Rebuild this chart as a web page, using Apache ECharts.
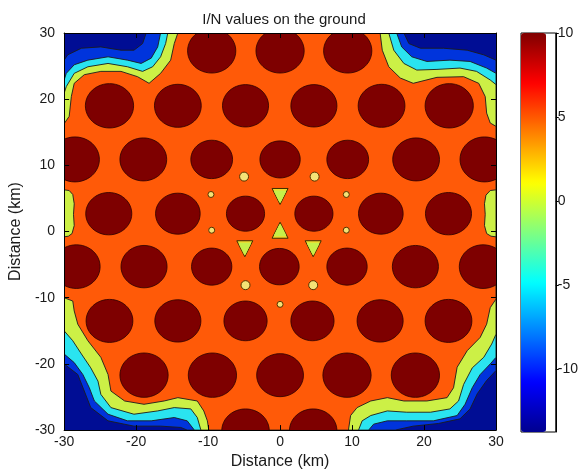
<!DOCTYPE html>
<html>
<head>
<meta charset="utf-8">
<title>I/N values on the ground</title>
<script src="https://cdn.jsdelivr.net/npm/echarts@6/dist/echarts.min.js"></script>
<style>
  html, body { margin: 0; padding: 0; background: #fff; }
  #chart { width: 581px; height: 475px; }
</style>
</head>
<body>
<div id="chart"></div>
<script>
// cell centres (km) and radius (km) of the > 10 dB contour round each one, row by row
const circleX = [
  -9.5, 0, 9.4,
  -23.7, -14.2, -4.8, 4.7, 14.1, 23.5,
  -28.5, -19.0, -9.5, 0, 9.4, 18.9, 28.4,
  -23.8, -14.2, -4.8, 4.7, 14.0, 23.4,
  -28.3, -18.9, -9.5, -0.1, 9.3, 18.8, 28.2,
  -23.7, -14.2, -4.8, 4.5, 13.9, 23.4,
  -18.9, -9.4, 0, 9.3, 18.8,
  -4.8, 4.6
];
const circleY = [
  27.3, 27.3, 27.3,
  19.0, 19.0, 19.0, 19.0, 19.0, 19.0,
  10.9, 10.9, 10.9, 10.9, 10.9, 10.9, 10.9,
  2.7, 2.7, 2.7, 2.7, 2.7, 2.7,
  -5.3, -5.3, -5.3, -5.3, -5.3, -5.3, -5.3,
  -13.5, -13.5, -13.5, -13.5, -13.5, -13.5,
  -21.7, -21.7, -21.7, -21.7, -21.7,
  -30.1, -30.1
];
const circleR = [
  3.35, 3.35, 3.35,
  3.35, 3.25, 3.2, 3.2, 3.25, 3.35,
  3.4, 3.25, 2.9, 2.8, 2.9, 3.25, 3.4,
  3.2, 3.1, 2.65, 2.65, 3.1, 3.2,
  3.3, 3.2, 2.8, 2.75, 2.8, 3.2, 3.3,
  3.25, 3.2, 3.0, 3.0, 3.2, 3.25,
  3.35, 3.35, 3.25, 3.35, 3.35,
  3.3, 3.3
];

// contour outlines (km): region above each level, traced clockwise from the top-left corner
const blueZone = [
  [-30, 25.9], [-29.5, 26.7], [-27.6, 27.7], [-24.9, 27.9], [-22.1, 27.4], [-20.3, 27.4], [-19.1, 28.4], [-18.6, 30],
  [17.2, 30], [17.9, 28.4], [19.5, 27.7], [22.7, 27.7], [26.0, 27.4], [28.3, 26.7], [30, 25.9],
  [30, -21.0], [28.7, -22.5], [27.4, -24.5], [26.4, -26.8], [25.0, -28.3], [22.0, -29.0], [18.5, -29.4], [16.0, -30],
  [-12.9, -30], [-13.8, -29.6], [-16.6, -29.4], [-20.3, -29.4], [-23.9, -28.6], [-26.3, -26.6], [-27.2, -24.1], [-28.1, -21.6], [-30, -20.0]
];
const cyanZone = [
  [-30, 22.9], [-29.7, 23.9], [-28.6, 25.2], [-26.7, 25.9], [-23.9, 26.4], [-21.2, 25.9], [-19.3, 25.4], [-17.9, 26.2], [-17.0, 27.9], [-16.6, 30],
  [16.2, 30], [16.9, 27.9], [18.3, 26.4], [20.4, 25.7], [23.6, 25.9], [26.4, 25.7], [28.7, 24.7], [30, 23.9],
  [30, -19.0], [29.2, -20.0], [27.8, -21.6], [26.7, -23.6], [25.7, -26.1], [24.6, -27.8], [21.3, -28.6], [17.6, -28.6], [14.9, -28.6], [13.0, -29.1], [12.3, -30],
  [-11.9, -30], [-12.9, -28.6], [-14.7, -28.1], [-17.9, -28.6], [-21.2, -28.6], [-23.9, -27.6], [-25.8, -25.6], [-26.5, -23.6], [-27.4, -21.6], [-28.6, -19.8], [-30, -18.5]
];
const greenZone = [
  [-30, 20.9], [-29.7, 21.9], [-28.6, 23.9], [-26.7, 24.9], [-23.9, 25.4], [-21.2, 24.9], [-19.1, 24.2], [-17.7, 24.9], [-16.6, 26.4], [-15.9, 28.4], [-15.6, 30],
  [15.1, 30], [15.8, 27.4], [17.2, 25.4], [19.0, 24.4], [21.8, 24.5], [25.0, 24.7], [27.3, 24.2], [29.2, 22.9], [30, 22.2],
  [30, -15.5], [29.4, -17.0], [28.3, -19.0], [26.7, -20.6], [25.5, -23.1], [24.8, -25.6], [23.6, -26.8], [20.9, -27.3], [17.6, -27.3], [14.9, -27.1], [12.6, -27.8], [11.4, -28.6], [10.9, -30],
  [-11.0, -30], [-11.5, -28.1], [-12.4, -26.8], [-14.7, -26.6], [-17.0, -27.1], [-20.3, -27.6], [-23.5, -26.6], [-24.9, -24.6], [-25.3, -22.6], [-26.3, -20.6], [-27.6, -18.5], [-28.8, -16.5], [-30, -15.0]
];
const orangeZone = [
  [-30, 16.3], [-29.3, 17.4], [-29.0, 20.4], [-28.6, 22.4], [-27.2, 23.7], [-24.9, 24.2], [-22.1, 24.2], [-19.8, 23.4], [-18.2, 22.4], [-16.6, 23.9], [-15.2, 25.9], [-14.7, 28.4], [-14.2, 30],
  [13.9, 30], [14.2, 27.4], [15.1, 24.9], [16.7, 23.2], [18.5, 22.4], [21.8, 23.3], [25.5, 23.4], [27.6, 22.4], [28.5, 20.4], [28.7, 17.9], [29.2, 16.4], [30, 15.9],
  [30, -10.2], [29.2, -11.5], [28.7, -14.0], [27.8, -16.0], [26.0, -18.0], [24.6, -20.5], [24.1, -23.6], [23.2, -25.1], [20.4, -25.6], [17.2, -25.6], [14.9, -25.1], [12.6, -25.6], [10.7, -26.6], [9.8, -27.8], [9.5, -30],
  [-9.9, -30], [-10.1, -28.6], [-10.6, -27.1], [-11.5, -25.6], [-14.2, -25.1], [-16.1, -25.6], [-18.9, -26.1], [-21.6, -25.6], [-23.5, -24.1], [-23.9, -21.6], [-24.9, -19.0], [-26.7, -16.5], [-28.1, -14.0], [-28.6, -12.0], [-28.8, -10.5], [-30, -10.0]
];
const leftStrip = [[-30, 6.3], [-29.3, 6.2], [-28.8, 5.6], [-28.6, 4.2], [-28.7, 2.6], [-28.6, 0.9], [-28.9, -0.3], [-29.4, -0.7], [-30, -0.8]];
const rightStrip = [[30, 6.3], [29.2, 6.2], [28.6, 5.5], [28.4, 4.2], [28.5, 2.6], [28.4, 0.9], [28.7, -0.3], [29.3, -0.7], [30, -0.8]];

// low spots between the centre cells
const lowSpotX = [0, 0, -4.9, 4.6];
const lowSpotY = [5.3, 0.2, -2.6, -2.6];
const lowSpotDir = ['down', 'up', 'down', 'down'];
const yellowSpotX = [-5.0, 4.8, -4.8, 4.6];
const yellowSpotY = [8.3, 8.3, -8.1, -8.1];
const tinySpotX = [-9.6, 9.2, -9.5, 9.2, 0];
const tinySpotY = [5.6, 5.6, 0.2, 0.2, -11.0];

const cbMin = -13.75;
const cbMax = 10;
const cbTicks = [-10, -5, 0, 5, 10];

const jet = ['#00008f', '#0000ff', '#0080ff', '#00ffff', '#80ff80', '#ffff00', '#ff8000', '#ff0000', '#800000'];
const zones = [blueZone, cyanZone, greenZone, orangeZone, leftStrip, rightStrip];
const zoneColors = ['#0034dc', '#2ae4f0', '#ccf046', '#ff5a08', '#ccf046', '#ccf046'];

const chart = echarts.init(document.getElementById('chart'));

const labelFont = { fontFamily: 'Liberation Sans', fontSize: 14, color: '#1a1a1a' };
const boxLine = { onZero: false, lineStyle: { color: '#000', width: 1 } };

const option = {
  animation: false,
  textStyle: { fontFamily: 'Liberation Sans' },
  title: {
    text: 'I/N values on the ground',
    left: 279,
    top: 7,
    textAlign: 'center',
    textStyle: { fontSize: 15, fontWeight: 'normal', color: '#1a1a1a', fontFamily: 'Liberation Sans' }
  },
  grid: [
    { left: 63, top: 33, width: 433, height: 399, show: true, backgroundColor: '#000d94', borderWidth: 0 },
    { left: 521, top: 33, width: 37, height: 399, show: true, borderColor: '#000', borderWidth: 1 }
  ],
  xAxis: [
    {
      gridIndex: 0, type: 'value', min: -30, max: 30, interval: 10, z: 5,
      name: 'Distance (km)', nameLocation: 'middle', nameGap: 18,
      nameTextStyle: { fontSize: 16, color: '#1a1a1a' },
      axisLine: boxLine,
      axisTick: { inside: true, length: 5, lineStyle: { color: '#000' } },
      axisLabel: Object.assign({ margin: 5 }, labelFont),
      splitLine: { show: false }
    },
    {
      gridIndex: 0, type: 'value', min: -30, max: 30, interval: 10, z: 5, position: 'top',
      axisLine: boxLine,
      axisTick: { inside: true, length: 5, lineStyle: { color: '#000' } },
      axisLabel: { show: false },
      splitLine: { show: false }
    },
    { gridIndex: 1, type: 'value', min: 0, max: 1, show: false }
  ],
  yAxis: [
    {
      gridIndex: 0, type: 'value', min: -30, max: 30, interval: 10, z: 5,
      name: 'Distance (km)', nameLocation: 'middle', nameGap: 30,
      nameTextStyle: { fontSize: 16, color: '#1a1a1a' },
      axisLine: boxLine,
      axisTick: { inside: true, length: 5, lineStyle: { color: '#000' } },
      axisLabel: Object.assign({ margin: 9 }, labelFont),
      splitLine: { show: false }
    },
    {
      gridIndex: 0, type: 'value', min: -30, max: 30, interval: 10, z: 5, position: 'right',
      axisLine: boxLine,
      axisTick: { inside: true, length: 5, lineStyle: { color: '#000' } },
      axisLabel: { show: false },
      splitLine: { show: false }
    },
    {
      gridIndex: 1, type: 'value', min: cbMin, max: cbMax, position: 'right', z: 5,
      axisLine: { show: true, onZero: false, lineStyle: { color: '#000', width: 1 } },
      axisTick: { show: true, length: 3, customValues: cbTicks, lineStyle: { color: '#000' } },
      axisLabel: Object.assign({ margin: 2, customValues: cbTicks }, labelFont),
      splitLine: { show: false }
    }
  ],
  visualMap: {
    type: 'continuous',
    seriesIndex: 4,
    min: cbMin,
    max: cbMax,
    calculable: false,
    left: 521,
    top: 33,
    padding: 0,
    itemWidth: 25,
    itemHeight: 399,
    inRange: { color: jet }
  },
  series: [
    {
      type: 'custom',
      xAxisIndex: 0, yAxisIndex: 0,
      clip: true, silent: true,
      data: zones.map(() => [0, 0]),
      renderItem: function (params, api) {
        const pts = zones[params.dataIndex].map((p) => api.coord(p));
        return {
          type: 'polygon',
          shape: { points: pts },
          style: { fill: zoneColors[params.dataIndex], stroke: '#1c1c1c', lineWidth: 0.9 }
        };
      }
    },
    {
      type: 'custom',
      xAxisIndex: 0, yAxisIndex: 0,
      clip: true, silent: true,
      data: circleX.map((x, i) => [x, circleY[i], circleR[i]]),
      renderItem: function (params, api) {
        const c = api.coord([api.value(0), api.value(1)]);
        const s = api.size([api.value(2), api.value(2)]);
        const pts = [];
        for (let k = 0; k < 48; k++) {
          const a = (k / 48) * Math.PI * 2;
          pts.push([c[0] + s[0] * Math.cos(a), c[1] + s[1] * Math.sin(a)]);
        }
        return {
          type: 'polygon',
          shape: { points: pts },
          style: { fill: '#7e0000', stroke: '#2a0000', lineWidth: 0.8 }
        };
      }
    },
    {
      // yellow rim of the low spots
      type: 'scatter',
      xAxisIndex: 0, yAxisIndex: 0, silent: true,
      symbol: 'triangle',
      symbolSize: 16,
      itemStyle: { color: '#f0dc2c', borderColor: '#3c2c00', borderWidth: 1, borderJoin: 'round', opacity: 1 },
      data: lowSpotX.map((x, i) => ({ value: [x, lowSpotY[i]], symbolRotate: lowSpotDir[i] === 'down' ? 180 : 0 })),
      z: 3
    },
    {
      type: 'scatter',
      xAxisIndex: 0, yAxisIndex: 0, silent: true,
      symbol: 'triangle',
      symbolSize: 10,
      itemStyle: { color: '#c6f04a', borderColor: '#c6f04a', borderWidth: 2, borderJoin: 'round', opacity: 1 },
      data: lowSpotX.map((x, i) => ({ value: [x, lowSpotY[i]], symbolRotate: lowSpotDir[i] === 'down' ? 180 : 0 })),
      z: 4
    },
    {
      // colour bar holder
      type: 'scatter',
      xAxisIndex: 2, yAxisIndex: 2, silent: true,
      data: []
    },
    {
      type: 'scatter',
      xAxisIndex: 0, yAxisIndex: 0, silent: true,
      symbol: 'circle',
      symbolSize: 9,
      itemStyle: { color: '#f4e276', borderColor: '#553300', borderWidth: 1, opacity: 1 },
      data: yellowSpotX.map((x, i) => [x, yellowSpotY[i]]),
      z: 3
    },
    {
      type: 'scatter',
      xAxisIndex: 0, yAxisIndex: 0, silent: true,
      symbol: 'circle',
      symbolSize: 6,
      itemStyle: { color: '#f4e276', borderColor: '#553300', borderWidth: 1, opacity: 1 },
      data: tinySpotX.map((x, i) => [x, tinySpotY[i]]),
      z: 3
    }
  ]
};

chart.setOption(option);
</script>
</body>
</html>
